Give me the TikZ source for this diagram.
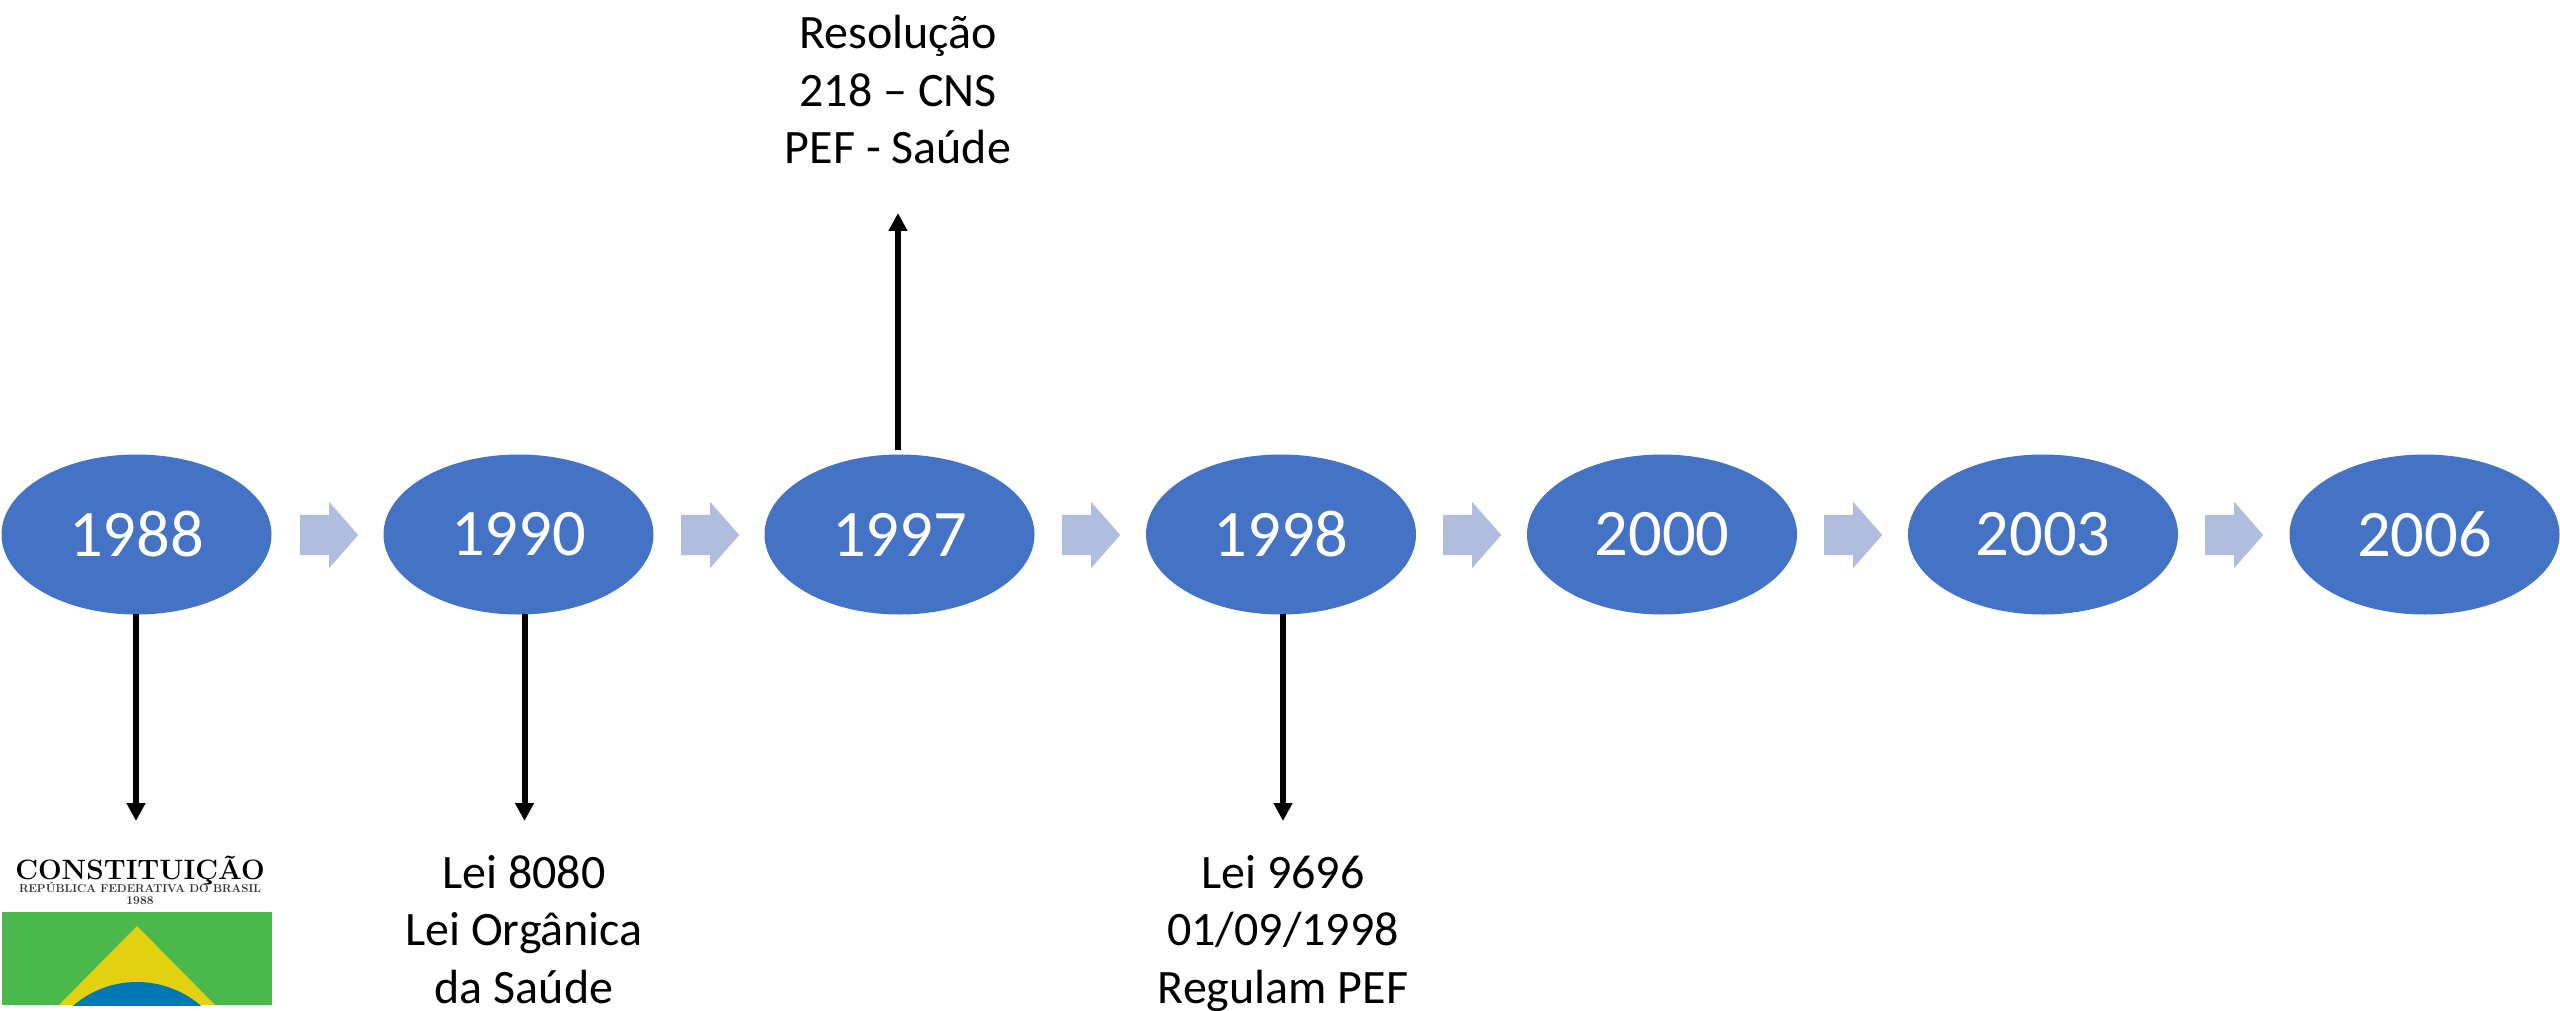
\documentclass[tikz,border=0pt]{standalone}
\usepackage{fontspec}
\setmainfont{Carlito}
\newfontfamily\lmserif{Latin Modern Roman}
\usetikzlibrary{shapes.geometric,shapes.arrows,arrows.meta}
\definecolor{ellblue}{HTML}{4472C4}
\definecolor{arrblue}{HTML}{B0BDDF}
\definecolor{flaggreen}{HTML}{4AB84D}
\definecolor{flagyellow}{HTML}{E3D10F}
\definecolor{flagblue}{HTML}{0279B5}
\tikzset{
  year/.style={ellipse,fill=ellblue,minimum width=270pt,minimum height=160pt,inner sep=0pt,text=white,font=\fontsize{66.5}{66.5}\selectfont},
  flow/.style={single arrow,fill=arrblue,minimum height=58pt,single arrow head extend=13pt,single arrow tip angle=97.4,inner sep=0pt,anchor=tail},
  link/.style={draw=black,line width=6pt,-{Triangle[length=18pt,width=18pt]}},
  caption/.style={align=center,font=\fontsize{48}{57.5}\selectfont,text=black,inner sep=0pt},
}
\begin{document}
\begin{tikzpicture}[x=1pt,y=-1pt]
\useasboundingbox (0,0) rectangle (2560,1011);
\fill[white] (0,0) rectangle (2560,1011);
\foreach \n/\x/\t in {a/136.5/1988,b/518.5/1990,c/899.5/1997,d/1281/1998,e/1662/2000,f/2043/2003,g/2424.5/2006}{
  \node[year] (\n) at (\x,534.5) {\t};
}
\foreach \n/\x in {fa/300,fb/681,fc/1062,fd/1443,fe/1824,ff/2205}{
  \node[flow] (\n) at (\x,535) {\rule{0pt}{40pt}};
}
\coordinate (sa) at (136,614);
\coordinate (sb) at (524.5,614);
\coordinate (sc) at (898,450);
\coordinate (sd) at (1283,614);
\coordinate (ta) at (136,821);
\coordinate (tb) at (524.5,821);
\coordinate (tc) at (898,213);
\coordinate (td) at (1283,821);
\draw[link] (sa) -- (ta);
\draw[link] (sb) -- (tb);
\draw[link] (sc) -- (tc);
\draw[link] (sd) -- (td);
\node[caption] (lc) at (898,94.6) {\strut Resolução\\\strut 218 – CNS\\\strut PEF - Saúde};
\node[caption] (lb) at (524,934) {\strut Lei 8080\\\strut Lei Orgânica\\\strut da Saúde};
\node[caption] (ld) at (1283,934) {\strut Lei 9696\\\strut 01/09/1998\\\strut Regulam PEF};
\begin{scope}
\clip (2,912) rectangle (272,1005);
\fill[flaggreen] (2,912) rectangle (272,1005);
\fill[flagyellow] (137,926) -- (215,1005) -- (59,1005) -- cycle;
\fill[flagblue] (137,1080) circle (98);
\end{scope}
\node[inner sep=0pt,anchor=base,font=\lmserif\bfseries\fontsize{28}{28}\selectfont] (ct) at (140,879) {CONSTITUIÇÃO};
\node[inner sep=0pt,anchor=base,font=\lmserif\bfseries\fontsize{11.4}{11.4}\selectfont,text=black!80] (rp) at (140,892) {REPÚBLICA FEDERATIVA DO BRASIL};
\node[inner sep=0pt,anchor=base,font=\lmserif\bfseries\fontsize{12}{12}\selectfont,text=black!80] (yr) at (140,904) {1988};
\end{tikzpicture}
\end{document}
